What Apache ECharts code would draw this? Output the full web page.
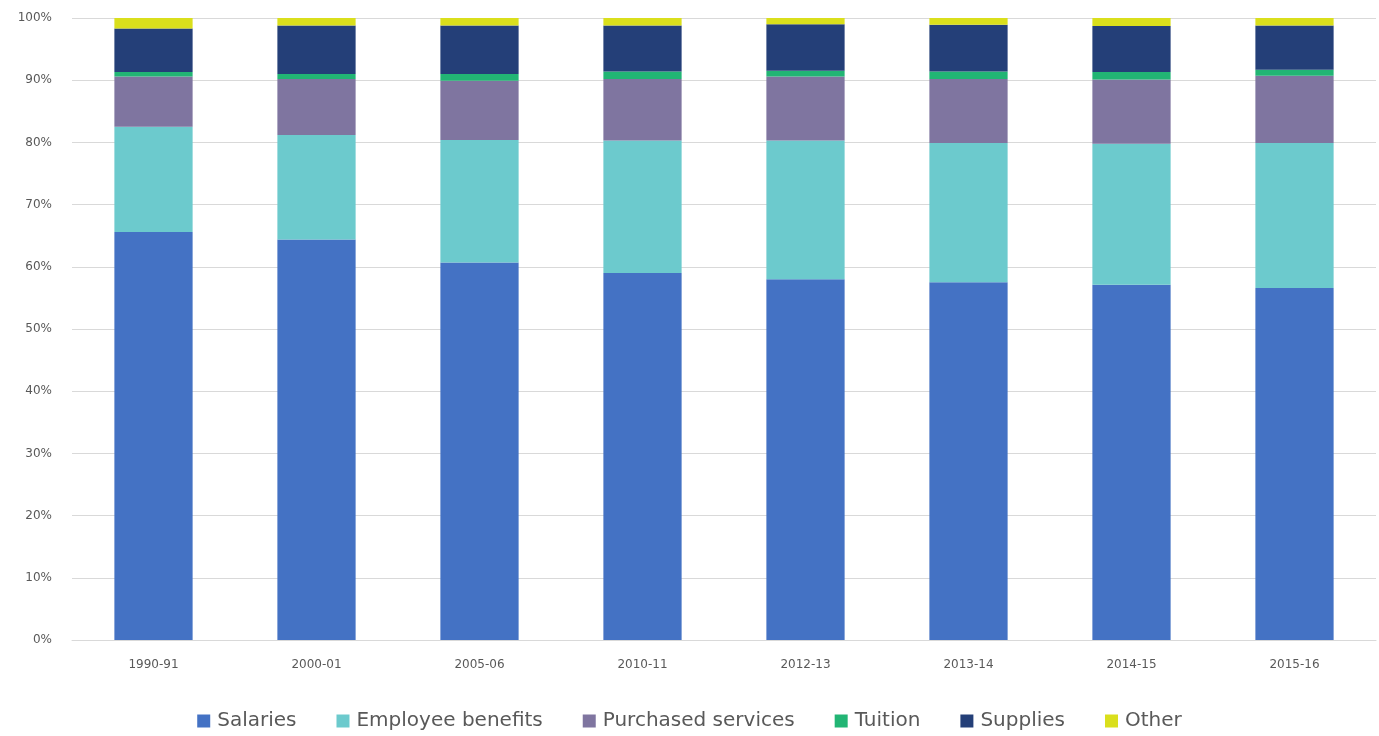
<!DOCTYPE html>
<html>
<head>
<meta charset="utf-8">
<script src="https://cdn.jsdelivr.net/npm/echarts@6/dist/echarts.min.js"></script>
<style>
html,body{margin:0;padding:0;background:#fff;}
#chart{width:1379px;height:736px;}
</style>
</head>
<body>
<div id="chart"></div>
<script>
const categories = ['1990-91','2000-01','2005-06','2010-11','2012-13','2013-14','2014-15','2015-16'];
const salaries = [65.6, 64.4, 60.7, 59.0, 58.0, 57.5, 57.1, 56.6];
const employeeBenefits = [16.9, 16.8, 19.7, 21.3, 22.3, 22.4, 22.7, 23.3];
const purchasedServices = [8.1, 9.0, 9.5, 9.9, 10.3, 10.3, 10.3, 10.8];
const tuition = [0.7, 0.8, 1.1, 1.2, 0.9, 1.2, 1.2, 1.0];
const supplies = [7.0, 7.8, 7.8, 7.4, 7.5, 7.5, 7.4, 7.1];
const other = [1.7, 1.2, 1.2, 1.2, 1.0, 1.1, 1.3, 1.2];
const seriesNames = ['Salaries','Employee benefits','Purchased services','Tuition','Supplies','Other'];
const seriesData = [salaries, employeeBenefits, purchasedServices, tuition, supplies, other];
const colors = ['#4472c4','#6ccacd','#7f75a0','#22b574','#243f78','#dadf1c'];

const chart = echarts.init(document.getElementById('chart'), null, {renderer:'canvas'});
chart.setOption({
  animation: false,
  color: colors,
  grid: {left: 72, right: 3, top: 18, bottom: 96, containLabel: false},
  legend: {
    top: 706,
    left: 'center',
    itemWidth: 13,
    itemHeight: 13,
    itemGap: 40,
    icon: 'rect',
    textStyle: {color: '#595959', fontSize: 20, fontFamily: 'DejaVu Sans, sans-serif', padding: [0, 0, 0, 2]},
    data: seriesNames
  },
  xAxis: {
    type: 'category',
    data: categories,
    axisLine: {lineStyle: {color: '#d9d9d9'}},
    axisTick: {show: false},
    axisLabel: {color: '#595959', fontSize: 12, margin: 19, fontFamily: 'DejaVu Sans, sans-serif'}
  },
  yAxis: {
    type: 'value',
    min: 0, max: 100, interval: 10,
    axisLine: {show: false},
    axisTick: {show: false},
    splitLine: {lineStyle: {color: '#d9d9d9', width: 1}},
    axisLabel: {color: '#595959', fontSize: 12, margin: 20, formatter: '{value}%', fontFamily: 'DejaVu Sans, sans-serif'}
  },
  series: seriesNames.map((n, i) => ({
    name: n,
    type: 'bar',
    stack: 'total',
    barWidth: '48%',
    data: seriesData[i]
  }))
});
</script>
</body>
</html>
